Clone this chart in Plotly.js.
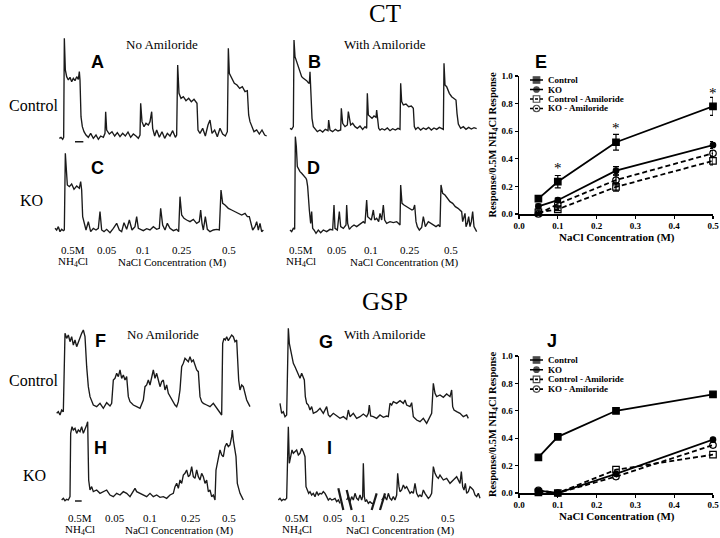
<!DOCTYPE html>
<html>
<head>
<meta charset="utf-8">
<script src="https://cdn.plot.ly/plotly-3.0.1.min.js"></script>
<style>html,body{margin:0;padding:0;background:#fff}#chart{width:720px;height:538px}</style>
</head>
<body>
<div id="chart"></div>
<script>
// ---------- summary data (panels E and J) ----------
var nacl = [0.05, 0.1, 0.25, 0.5];
var seriesNames = ["Control", "KO", "Control - Amiloride", "KO - Amiloride"];
var ctControl = [0.111, 0.234, 0.52, 0.78];
var ctControlErr = [0.02, 0.045, 0.057, 0.065];
var ctKO = [0.056, 0.10, 0.314, 0.50];
var ctKOErr = [0.015, 0.015, 0.03, 0.025];
var ctControlAmil = [0.012, 0.034, 0.196, 0.385];
var ctControlAmilErr = [0.01, 0.01, 0.03, 0.03];
var ctKOAmil = [0.0, 0.072, 0.246, 0.44];
var ctKOAmilErr = [0.01, 0.015, 0.035, 0.02];
var ctSignifX = [0.1, 0.25, 0.5];
var ctSignifY = [0.33, 0.62, 0.88];
var gspControl = [0.26, 0.41, 0.60, 0.72];
var gspKO = [0.017, 0.0, 0.14, 0.39];
var gspControlAmil = [0.005, 0.0, 0.17, 0.28];
var gspKOAmil = [0.02, 0.0, 0.12, 0.35];
var ticks = [0, 0.1, 0.2, 0.3, 0.4, 0.5];
var yTicks = [0, 0.2, 0.4, 0.6, 0.8, 1.0];

// ---------- nerve recordings (time, response; response axis points down) ----------
var ctCtrlNoAmilT = [28,33,38,41,43,46,50,55,60,65,70,75,80,85,88,90,93,97,102,108,115,122,130,138,145,152,160,165,167,170,178,186,194,202,210,218,226,234,242,250,258,265,270,272,276,282,288,295,300,305,308,314,320,328,336,344,352,360,368,376,380,383,387,393,400,408,416,424,432,438,441,444,450,458,466,474,480,486,494,502,510,518,526,532,535,538,545,553,561,569,577,585,592,596,600,606,612,620,628,636,644,650];
var ctCtrlNoAmilV = [325,322,328,322,25,120,140,150,142,155,145,152,140,148,125,150,260,290,305,315,322,310,325,315,328,318,322,310,245,300,312,305,318,308,320,310,318,306,322,312,318,325,315,220,275,290,280,285,275,245,295,318,300,322,305,325,310,318,302,322,315,105,190,205,200,212,205,215,208,218,220,300,310,295,318,285,270,310,300,320,295,312,318,305,55,130,145,160,165,175,170,185,182,255,275,290,305,300,312,300,315,318];
var ctKONoAmilT = [15,20,25,30,35,40,43,46,52,58,65,72,80,88,92,95,98,102,108,115,122,130,138,145,150,155,162,170,180,190,200,208,215,222,230,238,246,255,260,265,272,280,290,300,310,320,328,332,338,345,352,360,370,380,386,390,395,402,410,420,430,440,448,452,456,460,466,472,480,490,500,508,513,518,525,535,545,555,565,575,585,592,598,603,608,615,620,625,630,635,640];
var ctKONoAmilV = [595,600,590,605,598,602,600,370,465,470,462,478,468,475,455,480,560,580,600,575,605,595,600,595,545,600,605,598,608,595,580,600,605,578,598,570,600,590,560,595,598,602,596,600,590,598,595,535,585,600,580,595,602,598,605,500,555,565,570,575,568,580,575,540,580,600,560,598,605,600,598,600,480,520,525,535,540,545,548,555,550,560,560,580,600,590,575,600,580,605,600];
var ctCtrlAmilT = [30,35,40,42,45,50,55,60,65,70,75,80,85,88,90,93,96,100,105,112,120,128,136,144,146,150,158,166,174,182,184,188,195,202,205,208,212,218,225,232,240,248,255,260,262,265,270,276,282,288,290,293,296,300,306,314,322,330,338,346,354,360,362,365,370,378,386,394,400,403,407,414,422,430,438,446,454,462,470,478,486,490,492,495,500,508,515,522,528,531,535,542,550,558,566,574,582,590];
var ctCtrlAmilV = [295,298,290,30,80,95,110,125,140,145,148,152,158,160,125,200,265,290,298,305,300,306,298,302,270,300,305,298,303,300,235,280,290,285,245,265,285,280,290,295,288,298,290,295,190,255,260,265,258,262,240,262,295,300,296,300,294,302,296,300,295,298,160,215,225,222,230,228,235,290,298,292,300,294,298,292,300,294,298,292,296,298,100,165,170,190,200,205,210,250,282,295,290,298,292,297,293,296];
var ctKOAmilT = [30,35,40,44,46,49,52,56,60,65,70,75,78,80,83,88,92,95,98,102,108,115,122,130,140,150,158,162,165,172,178,182,190,198,200,203,208,215,222,230,238,245,250,255,260,263,268,274,280,284,290,296,300,305,310,314,320,330,340,350,355,360,362,366,372,380,388,396,400,404,408,412,418,425,430,436,445,452,460,468,475,480,483,488,495,502,510,518,526,534,540,545,548,552,555,558,562,566,570,574,578,582,586,590];
var ctKOAmilV = [600,605,595,598,320,350,410,420,425,430,435,440,445,450,470,540,580,545,595,600,610,600,608,600,605,598,600,525,595,600,545,590,595,585,525,580,598,590,585,590,585,580,575,580,510,560,565,570,540,570,565,575,550,570,525,570,580,575,578,575,580,585,465,520,525,530,535,540,538,525,575,590,600,592,560,590,575,580,585,590,585,590,465,490,495,505,515,520,530,535,540,545,575,560,550,590,580,560,590,575,545,590,600,605];
var gspCtrlNoAmilT = [170,175,180,185,190,195,200,205,210,215,220,225,230,235,240,245,250,255,260,265,270,275,280,290,300,310,320,330,335,340,345,350,355,360,365,370,375,380,385,390,395,400,410,420,430,435,440,445,450,455,460,465,470,475,480,485,490,495,500,505,510,515,520,525,530,535,540,545,550,555,560,565,570,575,580,585,590,595,600,605,610,620,630,640,650,655,660,665,668,672,676,680,685,690,695,700,705,710,713,716,720,725,730,735,740,745,750];
var gspCtrlNoAmilV = [430,425,435,420,425,190,205,195,215,200,225,210,230,215,200,190,180,200,290,350,380,395,405,410,400,415,398,408,400,330,325,310,320,300,325,315,330,320,380,395,400,405,410,415,390,350,345,330,345,320,300,325,310,330,350,335,330,360,345,370,380,390,400,405,410,395,360,290,280,265,270,275,260,275,270,285,300,305,380,395,400,405,410,400,415,420,430,435,220,205,210,200,212,205,195,200,215,210,300,330,360,345,350,370,390,400,410];
var gspCtrlAmilT = [840,845,850,855,860,865,868,872,876,880,885,890,895,900,905,910,913,916,920,925,930,935,940,950,960,970,980,985,990,1000,1010,1020,1030,1040,1045,1050,1060,1070,1080,1090,1100,1105,1108,1112,1120,1130,1140,1150,1160,1165,1170,1175,1180,1190,1200,1210,1215,1220,1230,1235,1240,1250,1260,1270,1280,1290,1295,1300,1305,1310,1320,1330,1340,1350,1355,1358,1362,1370,1380,1390,1400,1405];
var gspCtrlAmilV = [400,430,425,440,435,175,220,240,260,280,290,300,310,325,310,320,330,380,400,405,420,410,430,425,415,430,410,435,440,430,438,445,440,448,420,440,430,445,440,432,440,430,405,438,440,445,435,442,438,440,400,405,395,400,392,400,390,405,410,398,440,450,455,445,460,440,430,340,370,380,375,382,372,380,360,410,420,425,430,440,435,445];
var gspKONoAmilT = [185,190,195,200,205,210,212,216,220,225,230,235,240,245,250,255,260,263,266,270,275,280,290,300,310,320,330,340,350,360,370,380,390,400,405,410,420,430,440,450,460,470,480,490,500,510,520,525,530,535,540,545,550,555,560,565,570,575,580,585,590,595,600,605,610,615,620,625,630,635,640,645,648,652,656,660,665,670,675,680,685,690,695,697,700,705,708,712,716,720,725,730];
var gspKONoAmilV = [690,685,692,688,690,680,490,470,480,475,490,480,485,470,490,480,465,455,630,660,650,665,660,670,665,660,675,680,670,675,665,670,680,660,655,665,670,675,680,670,680,675,682,680,685,675,670,650,640,655,630,640,615,610,600,620,615,590,620,625,600,620,630,610,620,640,630,665,660,680,675,690,600,580,560,540,555,560,530,520,530,525,500,480,510,540,560,640,660,670,680,690];
var gspKOAmilT = [835,840,845,850,855,860,865,868,872,876,880,885,890,895,900,905,910,915,918,922,926,930,935,940,945,950,955,960,965,970,975,980,985,990,995,1000,1005,1010,1015,1020,null,1040,1045,1050,1055,1060,1065,1070,1075,1080,1085,1088,1090,1093,1096,1100,1105,1110,1115,1120,null,1145,1150,1155,1160,1165,1170,1175,1180,1185,1190,1193,1197,1200,1205,1210,1215,1220,1225,1230,1235,1240,1245,1250,1255,1260,1265,1270,1275,1280,1285,1290,1295,1300,1305,1310,1315,1320,1330,1340,1350,1360,1370,1380,1384,1388,1392,1396,1400,1405,1410,1415,1420,1425,1430,1435,1440];
var gspKOAmilV = [690,685,692,688,690,685,470,580,560,540,550,545,540,555,550,535,545,560,650,660,670,665,675,670,680,665,675,670,672,665,670,680,690,685,690,688,685,695,690,700,null,690,680,695,680,690,670,685,690,675,690,680,580,680,695,690,700,695,700,700,null,690,685,680,690,670,685,690,680,690,675,610,650,665,660,645,655,650,660,670,665,670,640,670,680,675,680,660,670,680,685,680,670,590,610,620,625,615,630,625,640,630,620,640,605,650,660,640,670,665,650,655,660,675,680,670,685];
var breakT = [1015,1030,null,1040,1055,null,1115,1130,null,1140,1155];
var breakV = [655,720,null,660,720,null,720,670,null,720,670];
var scaleBarAT = [75,100], scaleBarAV = [335,335];
var scaleBarHT = [225,245], scaleBarHV = [693,693];

// ---------- layout helpers ----------
var W = 720, H = 538;
var serif = 'Liberation Serif, Times New Roman, serif';
var sans = 'Liberation Sans, Arial, sans-serif';
var frames = {
  left:  {ox: 50, oy: 30, s: 3},
  right: {ox: 280, oy: 30, s: 3},
  gsp:   {ox: 0, oy: 270, s: 3}
};
var panels = [
  {f: 'left',  box: [20, 660, 15, 345]},   // A
  {f: 'right', box: [25, 600, 20, 310]},   // B
  {f: 'left',  box: [10, 650, 360, 615]},  // C
  {f: 'right', box: [25, 600, 310, 615]},  // D
  {f: 'gsp',   box: [165, 755, 170, 440]}, // F
  {f: 'gsp',   box: [835, 1410, 165, 465]},// G
  {f: 'gsp',   box: [180, 735, 445, 700]}, // H
  {f: 'gsp',   box: [830, 1445, 445, 725]} // I
];
var layout = {
  width: W, height: H,
  margin: {l: 0, r: 0, t: 0, b: 0},
  paper_bgcolor: '#fff', plot_bgcolor: 'rgba(0,0,0,0)',
  showlegend: false,
  annotations: []
};
panels.forEach(function (p, i) {
  var fr = frames[p.f], n = i + 1;
  var x0 = (fr.ox + p.box[0] / fr.s) / W, x1 = (fr.ox + p.box[1] / fr.s) / W;
  var yTop = (fr.oy + p.box[2] / fr.s), yBot = (fr.oy + p.box[3] / fr.s);
  layout['xaxis' + n] = {domain: [x0, x1], range: [p.box[0], p.box[1]], visible: false, fixedrange: true, anchor: 'y' + n};
  layout['yaxis' + n] = {domain: [1 - yBot / H, 1 - yTop / H], range: [p.box[3], p.box[2]], visible: false, fixedrange: true, anchor: 'x' + n};
});

var data = [];
function rec(t, v, n, w) {
  data.push({x: t, y: v, xaxis: 'x' + n, yaxis: 'y' + n, type: 'scatter', mode: 'lines',
    line: {color: '#1a1a1a', width: w || 1.35}, showlegend: false, hoverinfo: 'skip', cliponaxis: false});
}
rec(ctCtrlNoAmilT, ctCtrlNoAmilV, 1);
rec(ctCtrlAmilT, ctCtrlAmilV, 2);
rec(ctKONoAmilT, ctKONoAmilV, 3);
rec(ctKOAmilT, ctKOAmilV, 4);
rec(gspCtrlNoAmilT, gspCtrlNoAmilV, 5);
rec(gspCtrlAmilT, gspCtrlAmilV, 6);
rec(gspKONoAmilT, gspKONoAmilV, 7);
rec(gspKOAmilT, gspKOAmilV, 8);
rec(breakT, breakV, 8, 2.2);
rec(scaleBarAT, scaleBarAV, 1, 1.5);
rec(scaleBarHT, scaleBarHV, 7, 1.5);

// ---------- summary charts ----------
function sumAxes(n, yTopPx, yBotPx) {
  layout['xaxis' + n] = {
    domain: [519 / W, 713 / W], range: [0, 0.5], anchor: 'y' + n,
    tickvals: ticks, ticktext: ticks.map(function (v) { return v.toFixed(1); }),
    ticks: 'outside', ticklen: 3, tickwidth: 1.3, tickcolor: '#000',
    showline: true, linecolor: '#000', linewidth: 1.5, showgrid: false, zeroline: false,
    tickfont: {family: serif, size: 9, color: '#000', weight: 'bold'},
    fixedrange: true
  };
  layout['yaxis' + n] = {
    domain: [1 - yBotPx / H, 1 - yTopPx / H], range: [0, 1.0], anchor: 'x' + n,
    tickvals: yTicks, ticktext: yTicks.map(function (v) { return v.toFixed(1); }),
    ticks: 'outside', ticklen: 3, tickwidth: 1.3, tickcolor: '#000',
    showline: true, linecolor: '#000', linewidth: 1.5, showgrid: false, zeroline: false,
    tickfont: {family: serif, size: 9, color: '#000', weight: 'bold'},
    title: {text: 'Response/0.5M NH<sub>4</sub>Cl Response', font: {family: serif, size: 10.5, color: '#000', weight: 'bold'}, standoff: 3},
    fixedrange: true
  };
}
sumAxes(9, 76, 214);
sumAxes(10, 356, 493);

var styles = [
  {symbol: 'square', size: 6.5, dash: 'solid'},
  {symbol: 'circle', size: 5.5, dash: 'solid'},
  {symbol: 'square-open', size: 6.5, dash: '5px,3px'},
  {symbol: 'circle-open', size: 6.5, dash: '5px,3px'}
];
function sumTrace(vals, errs, k, n) {
  var st = styles[k];
  var tr = {
    x: nacl, y: vals, xaxis: 'x' + n, yaxis: 'y' + n, type: 'scatter', mode: 'lines+markers',
    name: seriesNames[k], showlegend: false,
    line: {color: '#000', width: 1.8, dash: st.dash},
    marker: {symbol: st.symbol, size: st.size, color: '#000', line: {color: '#000', width: 1.2}},
    cliponaxis: false, hoverinfo: 'skip'
  };
  if (errs) tr.error_y = {type: 'data', array: errs, visible: true, color: '#000', thickness: 1.2, width: 3};
  data.push(tr);
}
sumTrace(ctControl, ctControlErr, 0, 9);
sumTrace(ctKO, ctKOErr, 1, 9);
sumTrace(ctControlAmil, ctControlAmilErr, 2, 9);
sumTrace(ctKOAmil, ctKOAmilErr, 3, 9);
sumTrace(gspControl, null, 0, 10);
sumTrace(gspKO, null, 1, 10);
sumTrace(gspControlAmil, null, 2, 10);
sumTrace(gspKOAmil, null, 3, 10);

// compact legends (key swatches on their own small axes, one row per series)
function legendBlock(n, firstRowPx, rowStepPx) {
  var top = firstRowPx - rowStepPx / 2, bot = firstRowPx + rowStepPx * 3.5;
  layout['xaxis' + n] = {domain: [530 / W, 543 / W], range: [0, 1], visible: false, fixedrange: true, anchor: 'y' + n};
  layout['yaxis' + n] = {domain: [1 - bot / H, 1 - top / H], range: [3.5, -0.5], visible: false, fixedrange: true, anchor: 'x' + n};
  seriesNames.forEach(function (name, k) {
    var st = styles[k];
    data.push({x: [0, 0.5, 1], y: [k, k, k], xaxis: 'x' + n, yaxis: 'y' + n, type: 'scatter', mode: 'lines+markers',
      line: {color: '#000', width: 1.6, dash: k > 1 ? '3px,2px' : 'solid'},
      marker: {symbol: st.symbol, size: [0, st.size, 0], color: '#000', line: {color: '#000', width: 1.2}},
      showlegend: false, hoverinfo: 'skip', cliponaxis: false});
    layout.annotations.push({x: 545.5 / W, y: 1 - (firstRowPx + rowStepPx * k) / H, xref: 'paper', yref: 'paper',
      text: name, showarrow: false, xanchor: 'left', yanchor: 'middle',
      font: {family: serif, size: 9, color: '#000', weight: 'bold'}});
  });
}
legendBlock(11, 80, 9.5);
legendBlock(12, 360, 9.7);

ctSignifX.forEach(function (x, i) {
  layout.annotations.push({x: x, y: ctSignifY[i], xref: 'x9', yref: 'y9', text: '*', showarrow: false,
    font: {family: serif, size: 15, color: '#000'}, yanchor: 'middle'});
});

// ---------- text labels ----------
function txt(px, py, text, size, family, weight) {
  layout.annotations.push({x: px / W, y: 1 - py / H, xref: 'paper', yref: 'paper', text: text,
    showarrow: false, xanchor: 'center', yanchor: 'middle',
    font: {family: family || serif, size: size, color: '#000', weight: weight || 'normal'}});
}
txt(617, 237, 'NaCl Concentration (M)', 11, serif, 'bold');
txt(617, 516, 'NaCl Concentration (M)', 11, serif, 'bold');
txt(385, 13, 'CT', 25);
txt(385, 301, 'GSP', 25);
txt(162, 45, 'No Amiloride', 13);
txt(385, 45, 'With Amiloride', 13);
txt(163, 334, 'No Amiloride', 13);
txt(385, 334, 'With Amiloride', 13);
txt(33, 105, 'Control', 16);
txt(31, 200, 'KO', 16);
txt(33, 380, 'Control', 16);
txt(34, 475, 'KO', 16);
[['A', 98, 62], ['B', 314, 62], ['C', 98, 168], ['D', 313, 168], ['E', 541, 62],
 ['F', 100, 341], ['G', 326, 342], ['H', 100, 448], ['I', 329, 448], ['J', 552, 341]].forEach(function (l) {
  txt(l[1], l[2], l[0], 18, sans, 'bold');
});
function concLabels(y1, y2, xs, cx) {
  var labs = ['0.5M', '0.05', '0.1', '0.25', '0.5'];
  xs.forEach(function (x, i) { txt(x, y1, labs[i], 11); });
  txt(xs[0], y2, 'NH<sub>4</sub>Cl', 11);
  txt(cx, y2, 'NaCl Concentration (M)', 11);
}
concLabels(250, 262, [73, 107, 143, 182, 229], 172);
concLabels(250, 262, [301, 337, 371, 410, 451], 404);
concLabels(518, 530, [80, 115, 150, 191, 229], 179);
concLabels(518, 530, [297, 333, 359, 400, 448], 400);

Plotly.newPlot('chart', data, layout, {staticPlot: true, displayModeBar: false});
</script>
</body>
</html>
